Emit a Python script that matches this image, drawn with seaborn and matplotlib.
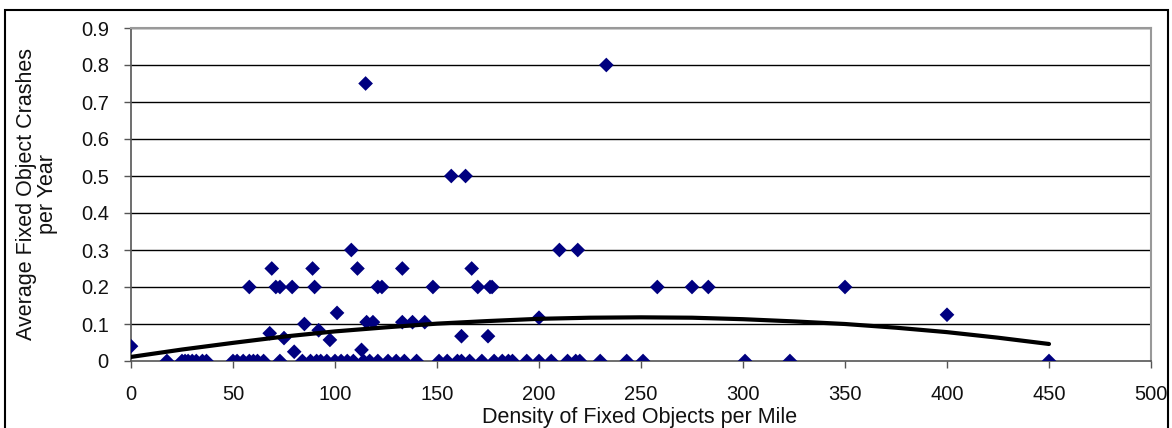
import pandas as pd
import matplotlib.pyplot as plt
import seaborn as sns
from matplotlib.patches import Rectangle

# ----------------------------------------------------
# Data
# ----------------------------------------------------
# points sitting on the zero line
zero_x = [17.6, 25, 26.5, 28, 30, 32, 35, 37, 50, 52, 55, 58, 60, 62, 65, 73,
          84, 88, 91, 93, 96, 100, 103, 106, 109, 114, 117, 121, 126, 130, 134,
          140, 151, 155, 160, 162, 166, 172, 178, 182, 185, 187, 194, 200, 206,
          214, 218, 220, 230, 243, 251, 301, 323, 450]

# remaining points (density, crashes)
other_x = [0, 68, 75, 80, 85, 92, 97.5, 101, 113, 115.5, 118.6, 133, 138, 144,
           162, 175, 200, 400,
           58, 71, 73, 79, 90, 121, 123, 148, 170, 176, 177, 258, 275, 283, 350,
           69, 89, 111, 133, 167,
           108, 210, 219,
           157, 164,
           115,
           233]
other_y = [0.04, 0.075, 0.062, 0.025, 0.1, 0.083, 0.057, 0.13, 0.03, 0.105, 0.105, 0.105, 0.105, 0.105,
           0.067, 0.067, 0.117, 0.125,
           0.2, 0.2, 0.2, 0.2, 0.2, 0.2, 0.2, 0.2, 0.2, 0.2, 0.2, 0.2, 0.2, 0.2, 0.2,
           0.25, 0.25, 0.25, 0.25, 0.25,
           0.3, 0.3, 0.3,
           0.5, 0.5,
           0.75,
           0.8]

# polynomial trendline
trend_x = [0, 25, 50, 75, 100, 125, 150, 175, 200, 225, 250, 275, 300, 325, 350, 375, 400, 425, 450]
trend_y = [0.011, 0.031, 0.049, 0.066, 0.080, 0.091, 0.101, 0.108, 0.114, 0.117, 0.118, 0.117,
           0.113, 0.107, 0.100, 0.090, 0.078, 0.063, 0.046]

x_ticks = [0, 50, 100, 150, 200, 250, 300, 350, 400, 450, 500]
y_ticks = [0, 0.1, 0.2, 0.3, 0.4, 0.5, 0.6, 0.7, 0.8, 0.9]
y_tick_labels = ['0', '0.1', '0.2', '0.3', '0.4', '0.5', '0.6', '0.7', '0.8', '0.9']

df = pd.DataFrame({
    'density': zero_x + other_x,
    'crashes': [0.0] * len(zero_x) + other_y,
})
df_trend = pd.DataFrame({'density': trend_x, 'crashes': trend_y})

# ----------------------------------------------------
# Plot
# ----------------------------------------------------
sns.set_theme(style="white")
plt.rcParams['font.family'] = ['Liberation Sans', 'DejaVu Sans']

W, H = 1172, 428
fig = plt.figure(figsize=(W / 100, H / 100), dpi=100)
ax = fig.add_axes([131 / W, 67 / H, 1020 / W, 333 / H])

# horizontal gridlines
for yv in y_ticks[1:]:
    ax.axhline(yv, color='black', linewidth=1.0, zorder=0)

sns.scatterplot(data=df, x='density', y='crashes', marker='D', color='#000080',
                s=56, edgecolor='none', ax=ax, zorder=3)

sns.lineplot(data=df_trend, x='density', y='crashes', color='black',
             linewidth=3.0, ax=ax, zorder=4)

ax.set_xlim(0, 500)
ax.set_ylim(0, 0.9)
ax.set_xticks(x_ticks)
ax.set_xticklabels([str(v) for v in x_ticks])
ax.set_yticks(y_ticks)
ax.set_yticklabels(y_tick_labels)
ax.set_xlabel('')
ax.set_ylabel('')
ax.tick_params(axis='both', direction='out', length=5, width=1, color='#555555',
               labelsize=14.5, labelcolor='#111111')
ax.tick_params(axis='x', pad=12, bottom=True)
ax.tick_params(axis='y', pad=11, left=True)

for side in ['left', 'bottom']:
    ax.spines[side].set_color('#555555')
    ax.spines[side].set_linewidth(1.2)
for side in ['top', 'right']:
    ax.spines[side].set_color('#999999')
    ax.spines[side].set_linewidth(1.5)

fig.text(640 / W, 5 / H, 'Density of Fixed Objects per Mile', ha='center',
         va='baseline', fontsize=15.5, color='#111111')
fig.text(37 / W, (H - 194) / H, 'Average Fixed Object Crashes\nper Year',
         ha='center', va='center', rotation=90, fontsize=15.5, color='#111111',
         multialignment='center', linespacing=0.95)

# outer frame
fig.add_artist(Rectangle((5 / W, -0.05), 1163 / W, (H - 10) / H + 0.05,
                         transform=fig.transFigure, fill=False,
                         edgecolor='black', linewidth=1.5, clip_on=False))

fig.savefig('out.png', dpi=100)
plt.close()
